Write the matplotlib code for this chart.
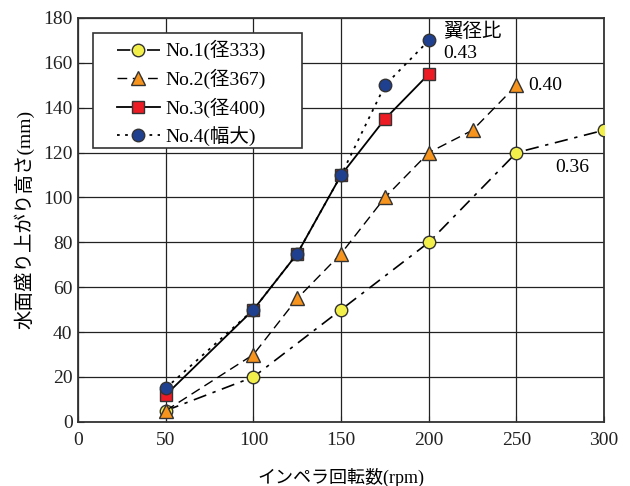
import matplotlib
matplotlib.use('Agg')
import matplotlib.pyplot as plt
from matplotlib.patches import Rectangle

plt.rcParams['font.family'] = ['Liberation Serif', 'Noto Sans CJK JP']

# データ
x1 = [50, 100, 150, 200, 250, 300]
y1 = [5, 20, 50, 80, 120, 130]
x2 = [50, 100, 125, 150, 175, 200, 225, 250]
y2 = [5, 30, 55, 75, 100, 120, 130, 150]
x3 = [50, 100, 125, 150, 175, 200]
y3 = [12, 50, 75, 110, 135, 155]
x4 = [50, 100, 125, 150, 175, 200]
y4 = [15, 50, 75, 110, 150, 170]
labels = ['No.1(径333)', 'No.2(径367)', 'No.3(径400)', 'No.4(幅大)']

fig = plt.figure(figsize=(6.3, 4.86), dpi=100)
ax = fig.add_axes([0.124, 0.132, 0.835, 0.831])

ax.plot(x1, y1, color='black', lw=1.2, ls=(0, (8, 4, 2, 4)),
        marker='o', ms=9, mfc='#f2ee4a', mec='#333333', mew=1.0, label=labels[0], zorder=3)
ax.plot(x2, y2, color='black', lw=1.0, ls=(0, (7, 4)),
        marker='^', ms=10, mfc='#f7941d', mec='#333333', mew=1.0, label=labels[1], zorder=3)
ax.plot(x3, y3, color='black', lw=1.3, ls='-',
        marker='s', ms=8, mfc='#ed1c24', mec='#333333', mew=1.0, label=labels[2], zorder=3)
ax.plot(x4, y4, color='black', lw=1.3, ls=(0, (1.5, 3)),
        marker='o', ms=9, mfc='#1f3f8f', mec='#333333', mew=1.0, label=labels[3], zorder=4)

ax.set_xlim(0, 300)
ax.set_ylim(0, 180)
ax.set_xticks(range(0, 301, 50))
ax.set_yticks(range(0, 181, 20))
ax.grid(True, color='#222222', lw=0.9)
ax.set_axisbelow(True)
ax.tick_params(direction='in', labelsize=14, length=4, colors='#222222')
ax.tick_params(axis='x', pad=7)
ax.tick_params(axis='y', pad=4)
for s in ax.spines.values():
    s.set_linewidth(1.3)
    s.set_color('#333333')

ax.set_xlabel('インペラ回転数(rpm)', fontsize=13, labelpad=14)
ax.set_ylabel('水面盛り上がり高さ(mm)', fontsize=14, labelpad=6)

ax.text(208, 177.8, '翼径比\n0.43', fontsize=14, va='top', ha='left', linespacing=1.25)
ax.text(256.5, 150, '0.40', fontsize=14, va='center', ha='left')
ax.text(272, 113.5, '0.36', fontsize=14, va='center', ha='left')

# 凡例の枠
ax.add_patch(Rectangle((0.0285, 0.678), 0.3975, 0.285, transform=ax.transAxes,
                       facecolor='white', edgecolor='#333333', lw=1.2, zorder=5))
leg = ax.legend(loc='upper left', bbox_to_anchor=(0.074, 0.945), fontsize=14,
                frameon=False, handlelength=2.2, handletextpad=0.3,
                borderpad=0, labelspacing=0.43, borderaxespad=0)
leg.set_zorder(6)

fig.savefig('out.png', dpi=100)
